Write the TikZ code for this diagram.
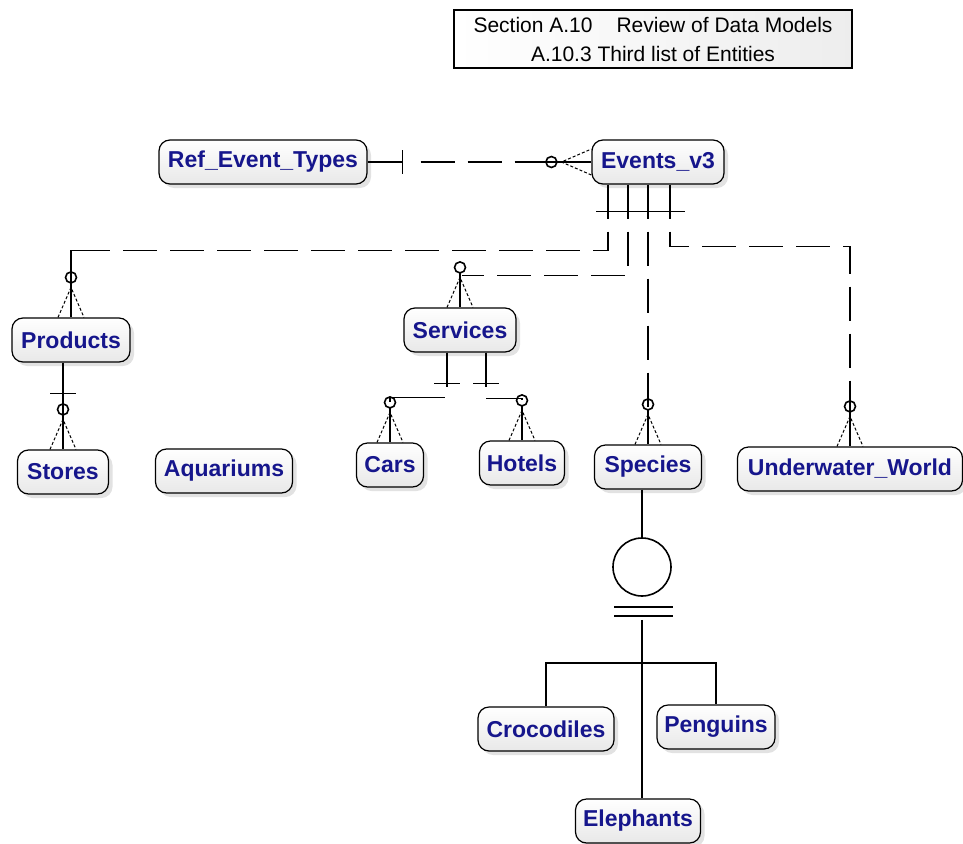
\documentclass[tikz,border=0pt]{standalone}
\usepackage{fontspec}
\setmainfont{Liberation Sans}
\usepackage{xcolor}
\usepackage{tikz}
\usetikzlibrary{shadows, positioning, calc}
\definecolor{entblue}{RGB}{22,22,140}
\tikzset{
  entity/.style = {rectangle, draw, rounded corners=11pt, line width=1.2pt,
    top color=white, bottom color=gray!18, text=entblue,
    font=\fontsize{23}{26}\selectfont\bfseries,
    minimum height=44pt, inner sep=0pt,
    drop shadow={shadow xshift=4pt, shadow yshift=-4pt, fill=gray!45}},
  titlebox/.style = {rectangle, draw, line width=1.2pt, left color=white, right color=gray!14,
    font=\fontsize{21}{29}\selectfont, align=center, minimum width=398pt, minimum height=58pt},
  rel/.style  = {line width=1.6pt, dash pattern=on 34pt off 13pt},
  link/.style = {line width=1.6pt},
  foot/.style = {line width=1pt, dash pattern=on 3pt off 2pt},
  bar/.style  = {line width=1.6pt},
  zeromany/.pic = {
    \draw[foot] (-13,0) -- (0,-30) -- (13,0);
    \draw[link] (0,-34) -- (0,0);
    \draw[link] (0,-40) circle (5.5);
  },
}

\begin{document}
\begin{tikzpicture}[x=1pt, y=-1pt]
  \useasboundingbox (0,0) rectangle (963,843);

  % Title block
  \node[titlebox] (title) at (653,39) {Section A.10\hspace{24pt}Review of Data Models\\A.10.3 Third list of Entities};

  % Entities
  \node[entity, minimum width=208pt] (reftypes)   at (263,162) {Ref\_Event\_Types};
  \node[entity, minimum width=132pt] (events)     at (658,162) {Events\_v3};
  \node[entity, minimum width=118pt] (products)   at (71,340)  {Products};
  \node[entity, minimum width=91pt]  (stores)     at (63,472)  {Stores};
  \node[entity, minimum width=137pt] (aquariums)  at (224,471) {Aquariums};
  \node[entity, minimum width=112pt] (services)   at (460,330) {Services};
  \node[entity, minimum width=67pt]  (cars)       at (390,465) {Cars};
  \node[entity, minimum width=85pt]  (hotels)     at (522,463) {Hotels};
  \node[entity, minimum width=107pt] (species)    at (648,467) {Species};
  \node[entity, minimum width=225pt] (uworld)     at (850,469) {Underwater\_World};
  \node[entity, minimum width=136pt] (crocodiles) at (546,729) {Crocodiles};
  \node[entity, minimum width=118pt] (penguins)   at (716,727) {Penguins};
  \node[entity, minimum width=125pt] (elephants)  at (638,821) {Elephants};

  % Subtype symbol
  \node[circle, draw, link, minimum size=58pt, inner sep=0pt] (subcat) at (642,567) {};

  % Ref_Event_Types to Events_v3
  \draw[link] (reftypes.east) -- ++(35,0) coordinate (rb);
  \draw[bar] ($(rb)+(0,-12)$) -- ($(rb)+(0,12)$);
  \draw[rel] ($(rb)+(18,0)$) -- ($(events.west)+(-48,0)$);
  \draw[link] ($(events.west)+(-48,0)$) -- (events.west);
  \pic[rotate=90] at (events.west) {zeromany};

  % Events_v3 to its children
  \draw[bar] ($(events.south)+(-62,27)$) -- ++(89,0);
  \draw[rel] ($(events.south)+(-50,0)$) |- ($(products.north)+(0,-67)$) -- (products.north);
  \draw[link] ($(products.north)+(36,-67)$) -| (products.north);
  \pic at (products.north) {zeromany};
  \draw[rel] ($(events.south)+(-30,0)$) |- ($(services.north)+(2,-32)$);
  \pic at (services.north) {zeromany};
  \draw[rel] ($(events.south)+(-10,0)$) -- (species.north);
  \pic at (species.north) {zeromany};
  \draw[rel] ($(events.south)+(12,0)$) |- ($(uworld.north)+(0,-200)$) -- (uworld.north);
  \pic at (uworld.north) {zeromany};

  % Products to Stores
  \draw[link] (products.south -| stores.north) -- (stores.north);
  \draw[bar] ($(stores.north)+(-13,-56)$) -- ++(26,0);
  \pic at (stores.north) {zeromany};

  % Services to Cars and Hotels
  \draw[rel] ($(services.south)+(-13,0)$) |- ($(cars.north)+(0,-45)$);
  \draw[link] ($(services.south)+(-13,0)$) -- ++(0,34);
  \draw[link] ($(cars.north)+(28,-45)$) -| ($(cars.north)+(0,-40)$);
  \draw[bar] ($(services.south)+(-26,31)$) -- ++(26,0);
  \pic at (cars.north) {zeromany};
  \draw[rel] ($(services.south)+(26,0)$) |- ($(hotels.north)+(0,-42)$);
  \draw[link] ($(services.south)+(26,0)$) -- ++(0,34);
  \draw[link] ($(hotels.north)+(-36,-42)$) -| ($(hotels.north)+(0,-40)$);
  \draw[bar] ($(services.south)+(13,31)$) -- ++(26,0);
  \pic at (hotels.north) {zeromany};

  % Species subtypes
  \draw[link] (species.south -| subcat.north) -- (subcat.north);
  \draw[bar] ($(subcat.south)+(-28,10)$) -- ++(59,0);
  \draw[bar] ($(subcat.south)+(-28,19)$) -- ++(59,0);
  \draw[link] ($(subcat.south)+(0,23)$) -- (subcat.south |- elephants.north);
  \draw[link] (crocodiles.north) |- ($(subcat.south)+(0,66)$) -| (penguins.north);

\end{tikzpicture}
\end{document}
